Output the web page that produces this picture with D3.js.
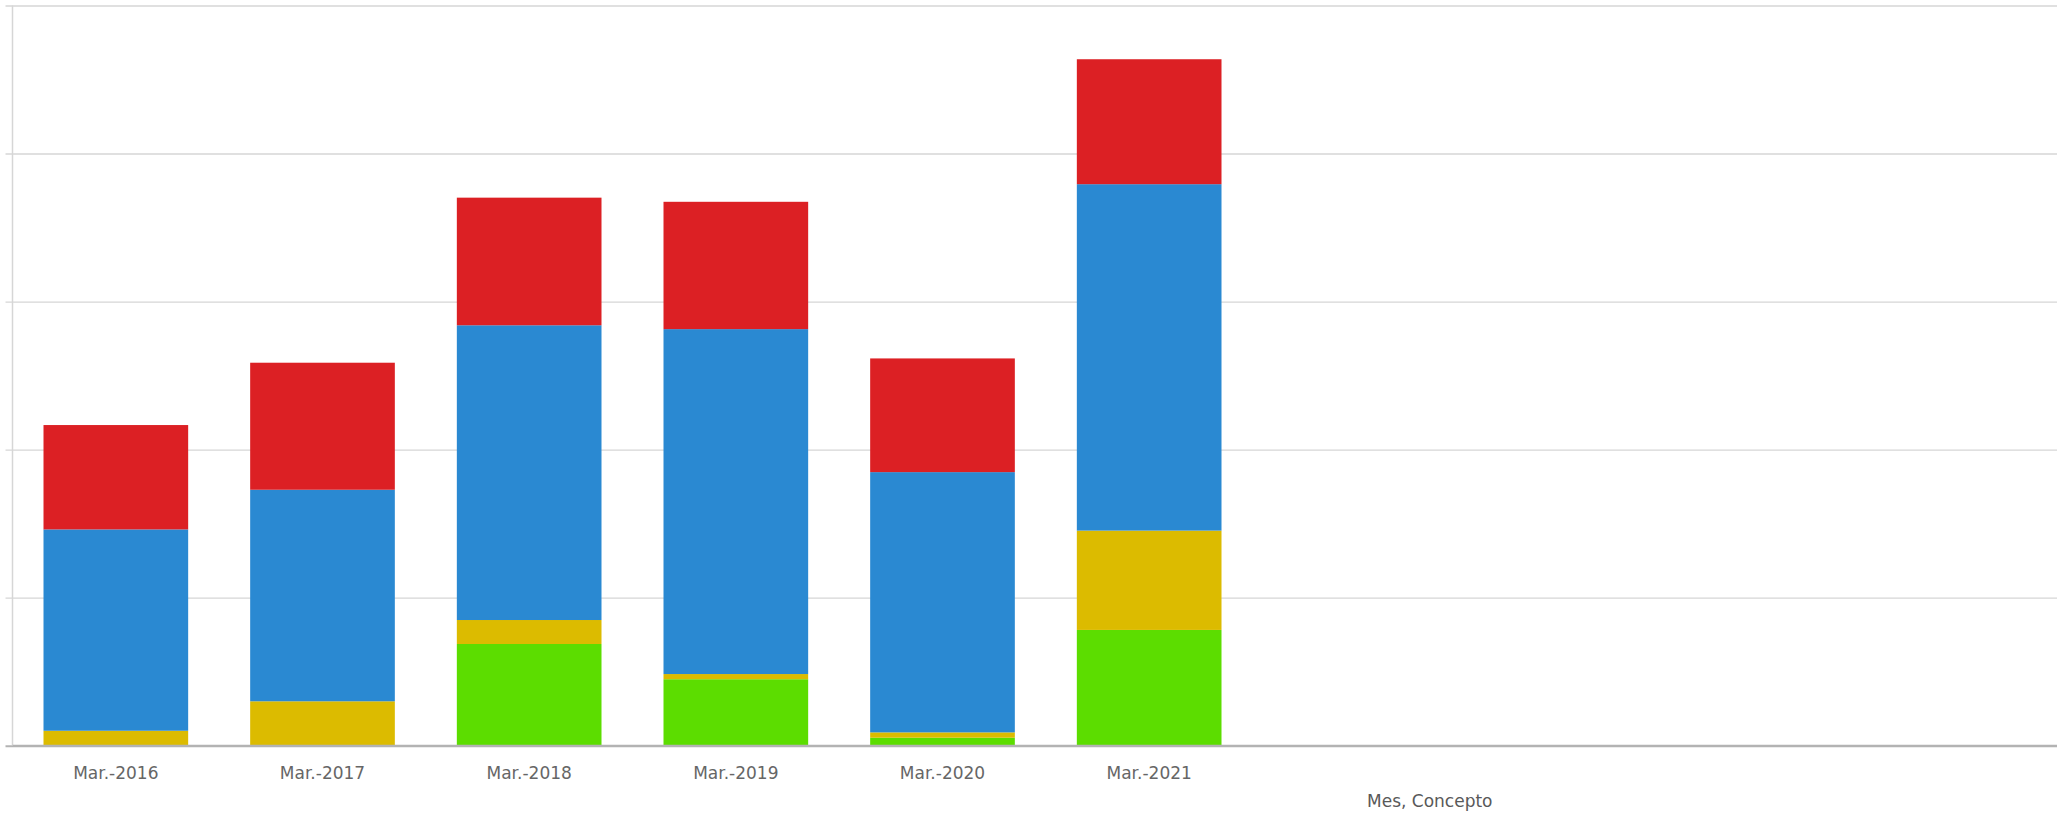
<!DOCTYPE html>
<html>
<head>
<meta charset="utf-8">
<script src="https://cdn.jsdelivr.net/npm/d3@7"></script>
<style>
  body { margin: 0; background: #fff; }
  svg { display: block; }
  .month text { font-family: "DejaVu Sans", sans-serif; font-size: 17px; fill: #666; }
</style>
</head>
<body>
<div id="chart"></div>
<script>
// categories (x axis)
const months = ["Mar.-2016", "Mar.-2017", "Mar.-2018", "Mar.-2019", "Mar.-2020", "Mar.-2021"];

// series, bottom to top of each stack (grid step = 1)
const seriesNames = ["Concepto 1", "Concepto 2", "Concepto 3", "Concepto 4"];
const green  = [0,     0,     0.687, 0.449, 0.054, 0.782];
const yellow = [0.101, 0.300, 0.162, 0.035, 0.036, 0.671];
const blue   = [1.360, 1.429, 1.991, 2.330, 1.758, 2.340];
const red    = [0.705, 0.858, 0.862, 0.860, 0.768, 0.844];

const yTicks = [0, 1, 2, 3, 4, 5];
const axisTitle = "Mes, Concepto";

const colors = ["#5cdd00", "#dcbb00", "#2a89d2", "#dc2024"];

const width = 2064, height = 814;
const plot = { left: 12.5, right: 2057, top: 5.5, bottom: 745.7 };

const table = months.map((m, i) => ({
  month: m,
  [seriesNames[0]]: green[i],
  [seriesNames[1]]: yellow[i],
  [seriesNames[2]]: blue[i],
  [seriesNames[3]]: red[i]
}));

const stacked = d3.stack().keys(seriesNames)(table);

const x = d3.scaleBand()
  .domain(months)
  .range([plot.left, plot.left + 1240])
  .paddingInner(0.3)
  .paddingOuter(0.15);

const y = d3.scaleLinear()
  .domain([0, 5])
  .range([plot.bottom, plot.top]);

const svg = d3.select("#chart")
  .append("svg")
  .attr("width", width)
  .attr("height", height);

// horizontal grid lines with the small outer ticks on the left
const grid = svg.append("g")
  .attr("transform", "translate(" + plot.left + ",0)")
  .call(d3.axisLeft(y).tickValues(yTicks).tickSize(-(plot.right - plot.left)).tickFormat(""));
grid.select(".domain").remove();
grid.selectAll(".tick line")
  .attr("x1", -7)
  .attr("stroke", d => d === 0 ? "#b3b3b3" : "#d6d6d6")
  .attr("stroke-width", d => d === 0 ? 2 : 1.4);

// left axis line
svg.append("line")
  .attr("x1", plot.left).attr("x2", plot.left)
  .attr("y1", y(5)).attr("y2", y(0))
  .attr("stroke", "#d6d6d6")
  .attr("stroke-width", 1.5);

// stacked bars
svg.append("g")
  .selectAll("g")
  .data(stacked)
  .join("g")
  .attr("fill", (d, i) => colors[i])
  .selectAll("rect")
  .data(d => d)
  .join("rect")
  .attr("x", d => x(d.data.month))
  .attr("y", d => y(d[1]))
  .attr("width", x.bandwidth())
  .attr("height", d => y(d[0]) - y(d[1]));

// baseline drawn again on top of the bars
svg.append("line")
  .attr("x1", plot.left).attr("x2", plot.right)
  .attr("y1", y(0)).attr("y2", y(0))
  .attr("stroke", "#b3b3b3")
  .attr("stroke-width", 2);

// month labels
const xAxis = svg.append("g")
  .attr("class", "month")
  .attr("transform", "translate(0," + y(0) + ")")
  .call(d3.axisBottom(x).tickSize(0).tickPadding(21));
xAxis.select(".domain").remove();
xAxis.selectAll("text").attr("dy", "0.71em");

// axis title
svg.append("text")
  .attr("x", 1367)
  .attr("y", 807)
  .attr("font-family", "DejaVu Sans, sans-serif")
  .attr("font-size", 17)
  .attr("fill", "#595959")
  .text(axisTitle);
</script>
</body>
</html>
